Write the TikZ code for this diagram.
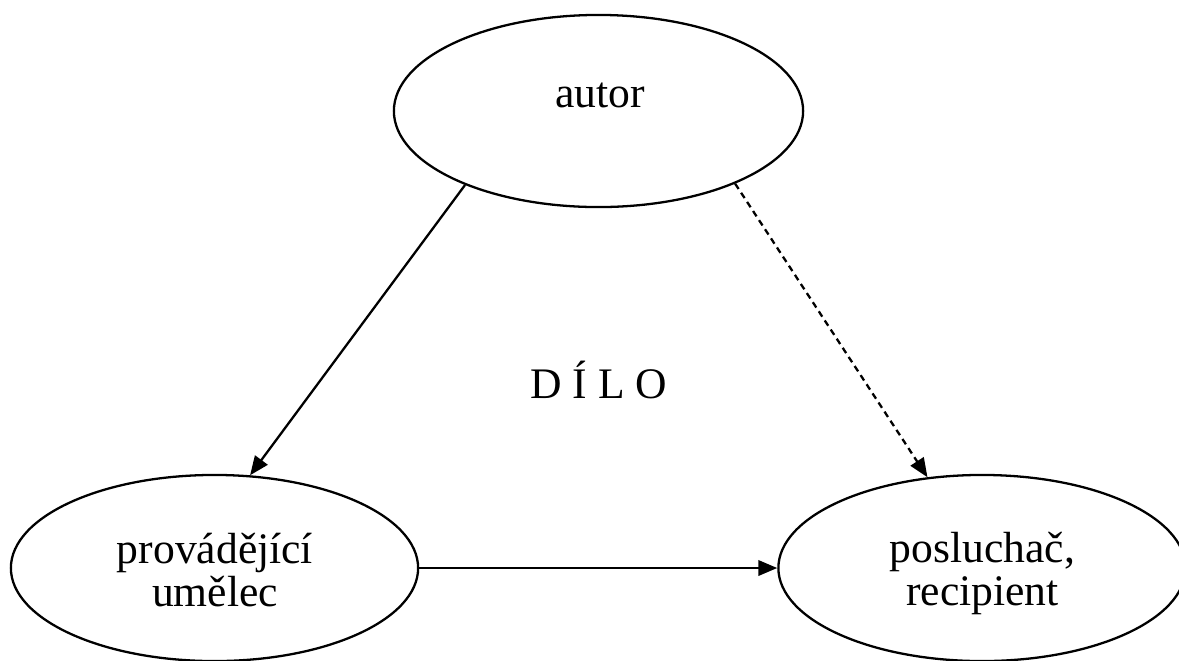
\documentclass[tikz,border=0pt]{standalone}
\usepackage{fontspec}
\setmainfont{Liberation Serif}
\usetikzlibrary{arrows.meta,shapes.geometric}
\tikzset{
  oval/.style={draw, ellipse, line width=0.65pt, inner sep=0pt, minimum width=4.07cm, minimum height=1.86cm},
  lbl/.style={anchor=base, inner sep=0pt, font=\fontsize{12.4}{14}\selectfont},
  conn/.style={line width=0.65pt, -{Triangle[length=5.4pt,width=4.4pt]}},
  dconn/.style={conn, dash pattern=on 1.8pt off 1.3pt}
}
\begin{document}
\begin{tikzpicture}[x=0.01cm,y=-0.01cm]
\useasboundingbox (0,0) rectangle (1179,660);
\clip (0,0) rectangle (1179,660);
\node[oval, minimum width=4.09cm, minimum height=1.92cm] (autor) at (598.5,111) {};
\node[oval] (prov) at (214.5,568) {};
\node[oval] (posl) at (982,568) {};
\node[lbl] (tautor) at (600,107) {autor};
\node[lbl] (tprov1) at (215,563) {provádějící};
\node[lbl] (tprov2) at (215,606) {umělec};
\node[lbl] (tposl1) at (982.5,562) {posluchač,};
\node[lbl] (tposl2) at (982.5,605) {recipient};
\node[lbl] (dilo) at (599,398) {D Í L O};
\draw[conn] (autor.-151.5) -- (prov.69);
\draw[dconn] (autor.-28.3) -- (posl.121);
\draw[conn] (prov.east) -- (posl.west);
\end{tikzpicture}
\end{document}
